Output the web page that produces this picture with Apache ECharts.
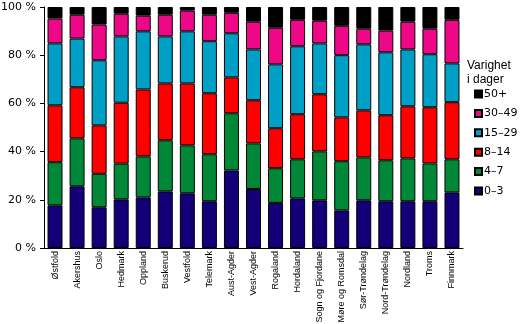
<!DOCTYPE html>
<html>
<head>
<meta charset="utf-8">
<style>
  html, body { margin: 0; padding: 0; background: #fff; }
  #chart { width: 520px; height: 324px; }
</style>
<script src="https://cdn.jsdelivr.net/npm/echarts@6/dist/echarts.min.js"></script>
</head>
<body>
<div id="chart"></div>
<script>
// Fylker (counties)
const counties = [
  'Østfold', 'Akershus', 'Oslo', 'Hedmark', 'Oppland', 'Buskerud', 'Vestfold',
  'Telemark', 'Aust-Agder', 'Vest-Agder', 'Rogaland', 'Hordaland',
  'Sogn og Fjordane', 'Møre og Romsdal', 'Sør-Trøndelag', 'Nord-Trøndelag',
  'Nordland', 'Troms', 'Finnmark'
];

// Share (%) of cases by duration class, per county
const d0_3   = [17.7, 25.6, 16.9, 20.2, 21.0, 23.5, 22.7, 19.4, 32.2, 24.5, 18.7, 20.6, 19.8, 15.6, 19.8, 19.4, 19.4, 19.4, 23.1];
const d4_7   = [17.9, 19.9, 13.9, 14.8, 17.0, 21.2, 19.9, 19.5, 23.7, 18.9, 14.4, 16.2, 20.3, 20.4, 17.8, 17.0, 17.8, 15.7, 13.7];
const d8_14  = [23.6, 21.2, 20.1, 25.3, 27.8, 23.6, 25.7, 25.3, 14.9, 17.9, 16.6, 18.7, 23.7, 18.2, 19.5, 18.7, 21.6, 23.3, 23.7];
const d15_29 = [25.7, 20.2, 27.0, 27.5, 24.1, 19.5, 21.6, 21.6, 18.3, 21.1, 26.5, 28.2, 21.1, 25.8, 27.4, 26.1, 23.6, 22.0, 16.1];
const d30_49 = [10.3,  9.9, 14.8,  9.4,  6.5,  9.0,  8.6, 11.0,  8.5, 11.5, 15.2, 11.0,  9.4, 12.2,  6.5,  9.0, 11.5, 10.6, 18.1];
const d50p   = [ 4.8,  3.2,  7.3,  2.8,  3.6,  3.2,  1.5,  3.2,  2.4,  6.1,  8.6,  5.3,  5.7,  7.8,  9.0,  9.8,  6.1,  9.0,  5.3];

const yTicks = [0, 20, 40, 60, 80, 100];

const classes = [
  { name: '0–3',   data: d0_3,   color: '#130078' },
  { name: '4–7',   data: d4_7,   color: '#008838' },
  { name: '8–14',  data: d8_14,  color: '#ff0000' },
  { name: '15–29', data: d15_29, color: '#00a0c6' },
  { name: '30–49', data: d30_49, color: '#ee0888' },
  { name: '50+',   data: d50p,   color: '#000000' }
];

const sans = 'Liberation Sans, Arial, Helvetica, sans-serif';
const wide = 'DejaVu Sans, Verdana, sans-serif';
const chart = echarts.init(document.getElementById('chart'), null, { renderer: 'canvas' });

chart.setOption({
  animation: false,
  backgroundColor: '#ffffff',
  title: {
    text: 'Varighet\ni dager',
    left: 462,
    top: 54,
    textStyle: { fontFamily: sans, fontSize: 12, fontWeight: 'normal', color: '#000', lineHeight: 14 }
  },
  legend: {
    orient: 'vertical',
    left: 469,
    top: 83.5,
    itemWidth: 7,
    itemHeight: 7,
    itemGap: 8.4,
    icon: 'rect',
    data: ['50+', '30–49', '15–29', '8–14', '4–7', '0–3'],
    textStyle: { fontFamily: wide, fontSize: 11, color: '#000', padding: [0, 0, 0, -3] }
  },
  grid: { left: 44, right: 57, top: 7, bottom: 76, containLabel: false, outerBoundsMode: 'none' },
  xAxis: {
    type: 'category',
    data: counties,
    axisLine: { lineStyle: { color: '#000', width: 1 } },
    axisTick: { show: false },
    axisLabel: {
      rotate: 90,
      interval: 0,
      margin: 3,
      fontFamily: sans,
      fontSize: 9,
      color: '#000'
    }
  },
  yAxis: {
    type: 'value',
    min: yTicks[0],
    max: yTicks[yTicks.length - 1],
    interval: 20,
    axisLine: { show: true, lineStyle: { color: '#000', width: 1 } },
    axisTick: { show: true, length: 4, lineStyle: { color: '#000' } },
    splitLine: { show: false },
    axisLabel: {
      formatter: '{value} %',
      margin: 8,
      fontFamily: wide,
      fontSize: 11,
      color: '#000'
    }
  },
  series: classes.map(c => ({
    name: c.name,
    type: 'bar',
    stack: 'total',
    data: c.data,
    barCategoryGap: '32%',
    itemStyle: { color: c.color, borderColor: '#000', borderWidth: 1 }
  }))
});
</script>
</body>
</html>
